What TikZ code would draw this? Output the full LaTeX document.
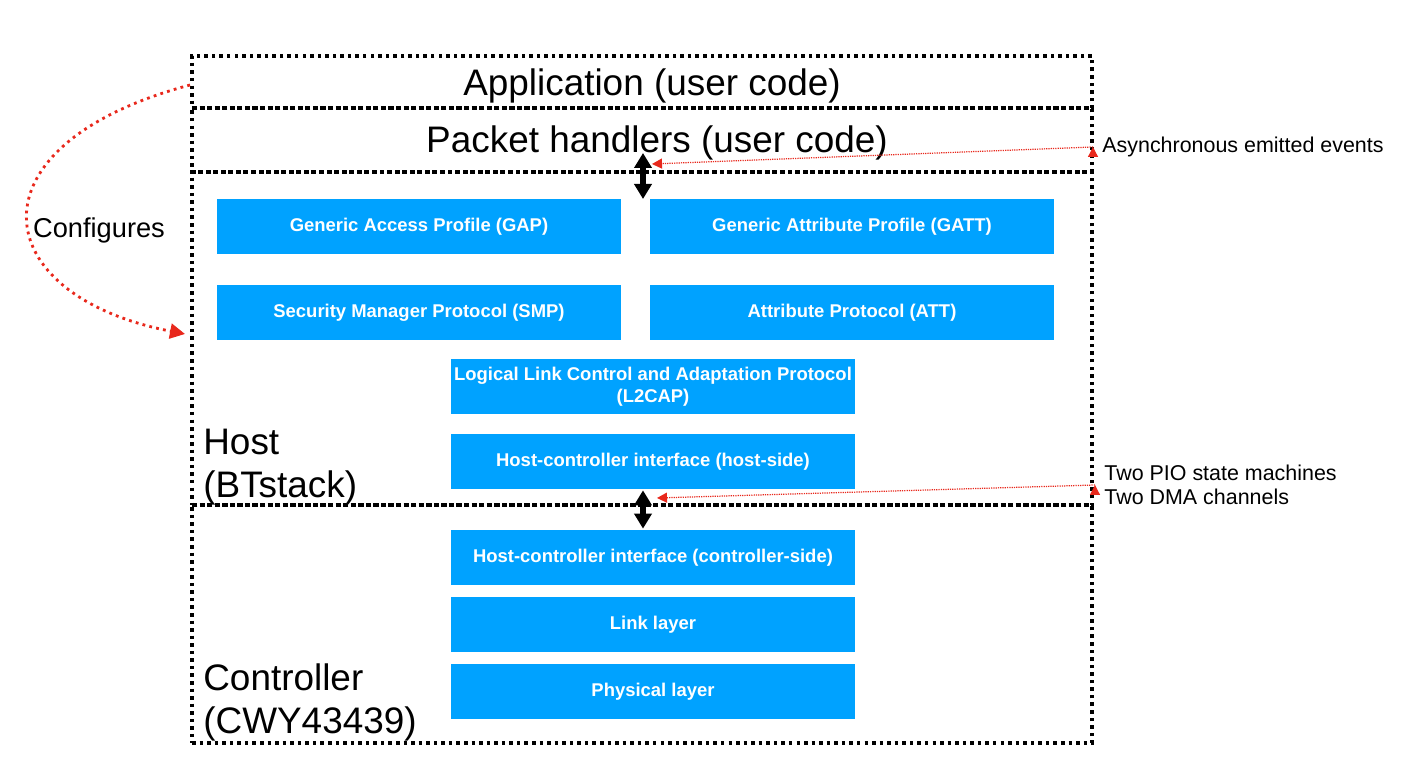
\documentclass[tikz,border=0pt]{standalone}
\usepackage{fontspec}
\setmainfont{Liberation Sans}
\usetikzlibrary{arrows.meta}
\usetikzlibrary{calc}

\definecolor{layerblue}{RGB}{0,162,255}
\definecolor{noteRed}{RGB}{232,40,28}

\begin{document}
\begin{tikzpicture}[>/.tip={Triangle[width=0.34cm,length=0.3cm]},
	layer/.style={draw,line width=2pt,dash pattern=on 2pt off 2.3pt,minimum width=18cm,inner sep=0},
	block/.style={fill=layerblue,text=white,minimum width=8.08cm,minimum height=1.1cm,inner sep=0,align=center,font=\fontsize{10.5}{12.5}\selectfont\bfseries},
	big/.style={font=\fontsize{21}{24.5}\selectfont},
	note/.style={font=\fontsize{12.2}{13.6}\selectfont,align=left,inner xsep=0.18cm,anchor=west},
	redline/.style={draw=noteRed,line width=0.7pt,dash pattern=on 0.7pt off 0.6pt,-{Triangle[width=0.2cm,length=0.2cm]},noteRed}]
	\useasboundingbox (0,0) rectangle (28.48,-15.22);

	% dotted layers
	\draw (12.84,-1.64) node (app) [layer,minimum height=1.04cm] {};
	\draw (12.84,-2.8) node (pkt) [layer,minimum height=1.28cm] {};
	\draw (12.84,-6.775) node (host) [layer,minimum height=6.66cm] {};
	\draw (12.84,-12.48) node (ctrl) [layer,minimum height=4.76cm] {};
	\node (apptext) [big] at (13.04,-1.71) {Application (user code)};
	\node (pkttext) [big] at (13.14,-2.86) {Packet handlers (user code)};
	\node (hostlabel) [big,anchor=west,align=left,inner sep=0] at (4.06,-9.35) {Host\\(BTstack)};
	\node (ctrllabel) [big,anchor=west,align=left,inner sep=0] at (4.06,-14.04) {Controller\\(CWY43439)};

	% protocol blocks
	\draw (8.38,-4.53) node (gap) [block] {Generic Access Profile (GAP)};
	\draw (17.04,-4.53) node (gatt) [block] {Generic Attribute Profile (GATT)};
	\draw (8.38,-6.25) node (smp) [block] {Security Manager Protocol (SMP)};
	\draw (17.04,-6.25) node (att) [block] {Attribute Protocol (ATT)};
	\draw (13.06,-7.74) node (l2cap) [block] {Logical Link Control and Adaptation Protocol\\(L2CAP)};
	\draw (13.06,-9.23) node (hcihost) [block] {Host-controller interface (host-side)};
	\draw (13.06,-11.15) node (hcictrl) [block] {Host-controller interface (controller-side)};
	\draw (13.06,-12.49) node (link) [block] {Link layer};
	\draw (13.06,-13.83) node (phy) [block] {Physical layer};

	% host <-> packet handlers, host <-> controller
	\coordinate (pktin) at (12.86,-3.06);
	\coordinate (hostin) at (12.86,-3.98);
	\coordinate (hcitop) at ($(hcihost.south)+(-0.2,-0.02)$);
	\coordinate (hcibot) at ($(hcictrl.north)+(-0.2,0.02)$);
	\path[<->,line width=3pt] (pktin) edge (hostin);
	\path[<->,line width=3pt] (hcitop) edge (hcibot);

	% notes
	\node (async) [note] at (21.86,-2.94) {Asynchronous emitted events};
	\node (pio) [note] at (21.9,-9.7) {Two PIO state machines\\Two DMA channels};
	\coordinate (evtip) at (13.04,-3.28);
	\coordinate (piotip) at (13.14,-9.96);
	\path[redline] (async.west) edge (evtip);
	\path[redline] (pio.west) edge (piotip);

	\node (cfg) [font=\fontsize{15.5}{18}\selectfont] at (1.98,-4.6) {Configures};
	\coordinate (cfgend) at (3.7,-6.68);
	\draw[noteRed,line width=1.6pt,dash pattern=on 1.6pt off 2.4pt,-{Triangle[width=0.3cm,length=0.3cm]}]
		(3.8,-1.7) .. controls (-0.7,-2.9) and (-0.3,-5.9) .. (cfgend);
\end{tikzpicture}
\end{document}
